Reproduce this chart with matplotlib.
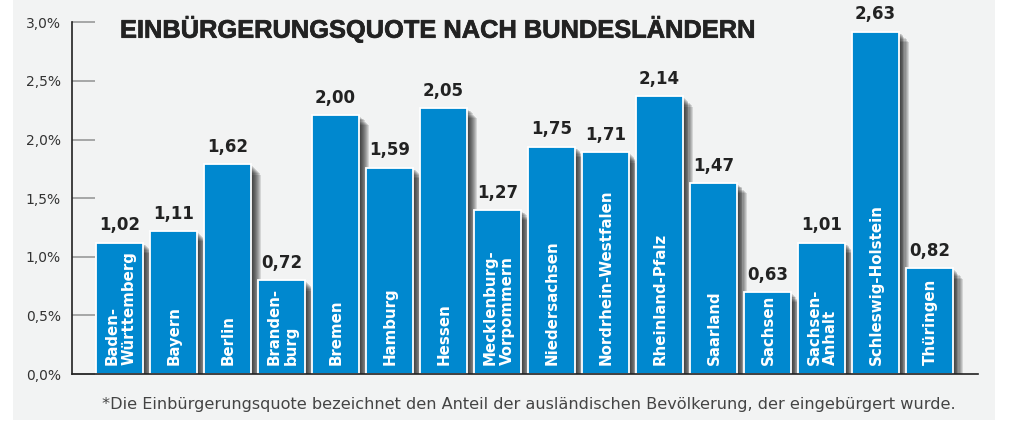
import matplotlib
matplotlib.use("Agg")
import matplotlib.pyplot as plt
import matplotlib.patheffects as pe
from matplotlib.patches import Rectangle

# ---- data ----
states = ["Baden-\nWürttemberg", "Bayern", "Berlin", "Branden-\nburg", "Bremen",
          "Hamburg", "Hessen", "Mecklenburg-\nVorpommern", "Niedersachsen",
          "Nordrhein-Westfalen", "Rheinland-Pfalz", "Saarland", "Sachsen",
          "Sachsen-\nAnhalt", "Schleswig-Holstein", "Thüringen"]
value_labels = ["1,02", "1,11", "1,62", "0,72", "2,00", "1,59", "2,05", "1,27",
                "1,75", "1,71", "2,14", "1,47", "0,63", "1,01", "2,63", "0,82"]
# bar heights as drawn on the percent axis of the original graphic
bar_heights = [1.12, 1.22, 1.79, 0.80, 2.21, 1.76, 2.27, 1.40,
               1.94, 1.89, 2.37, 1.63, 0.70, 1.12, 2.92, 0.90]
yticks = [0.0, 0.5, 1.0, 1.5, 2.0, 2.5, 3.0]
ytick_labels = ["0,0%", "0,5%", "1,0%", "1,5%", "2,0%", "2,5%", "3,0%"]
title = "EINBÜRGERUNGSQUOTE NACH BUNDESLÄNDERN"
footnote = ("*Die Einbürgerungsquote bezeichnet den Anteil der ausländischen "
            "Bevölkerung, der eingebürgert wurde.")

BLUE = "#0088cf"
DARK = "#222222"

fig = plt.figure(figsize=(10.24, 4.22), dpi=100, facecolor="white")
fig.patches.append(Rectangle((13/1024, 2/422), (995-13)/1024, 1, transform=fig.transFigure,
                             facecolor="#f2f3f3", edgecolor="none", zorder=-10))

ax = fig.add_axes([72/1024, 1-374/422, (978-72)/1024, (374-22.3)/422])
ax.set_facecolor("none")

x = list(range(len(states)))
shadow = [pe.SimplePatchShadow(offset=(o, -o), shadow_rgbFace="black", alpha=0.12)
          for o in [7.5, 6.5, 5.6, 4.8, 4.0, 3.3, 2.6, 2.0, 1.4]]
bars = ax.bar(x, bar_heights, width=0.87, color=BLUE, edgecolor="white",
              linewidth=1.3, zorder=3)
for b in bars:
    b.set_path_effects(shadow + [pe.Normal()])

for xi, h, lab, name in zip(x, bar_heights, value_labels, states):
    ax.text(xi, h + 0.07, lab, ha="center", va="bottom", fontsize=12,
            fontweight="bold", color=DARK, family="DejaVu Sans", zorder=5, clip_on=False)
    ax.text(xi + 0.02, 0.075, name, rotation=90, ha="center", va="bottom",
            multialignment="left", fontsize=10.8, fontweight="bold", color="white",
            family="DejaVu Sans", linespacing=1.15, zorder=5)

ax.set_xlim(-0.88, 15.9)
ax.set_ylim(0, 3.0)
ax.set_xticks([])
ax.set_yticks(yticks)
ax.set_yticklabels(ytick_labels, fontsize=10, color="#333333")
ax.tick_params(axis="y", direction="in", length=16.5, width=1.2, color="#999999", pad=8)
for s in ["top", "right"]:
    ax.spines[s].set_visible(False)
for s in ["left", "bottom"]:
    ax.spines[s].set_color(DARK)
    ax.spines[s].set_linewidth(1.2)
    ax.spines[s].set_zorder(4)

fig.text(120/1024, 1-29/422, title, ha="left", va="center", fontsize=18.3,
         fontweight="bold", color=DARK, family="Liberation Sans",
         path_effects=[pe.withStroke(linewidth=0.5, foreground=DARK)])
fig.text(529/1024, 1-405/422, footnote, ha="center", va="center", fontsize=11.6,
         color="#444444", family="DejaVu Sans")

fig.savefig("out.png", dpi=100, facecolor="white")
